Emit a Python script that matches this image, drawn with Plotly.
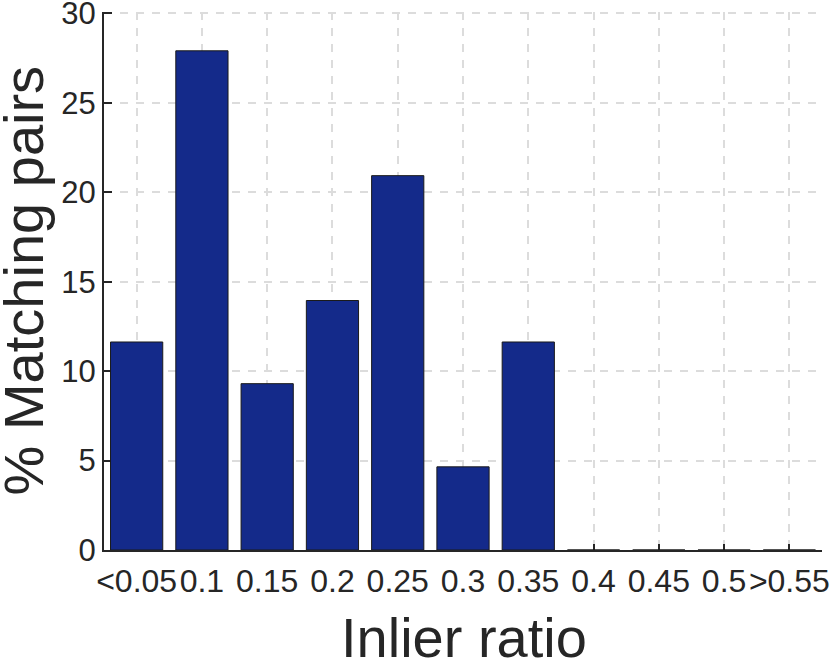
import plotly.graph_objects as go

categories = ["<0.05", "0.1", "0.15", "0.2", "0.25", "0.3", "0.35", "0.4", "0.45", "0.5", ">0.55"]
values = [11.63, 27.91, 9.30, 13.95, 20.93, 4.65, 11.63, 0, 0, 0, 0]
y_ticks = [0, 5, 10, 15, 20, 25, 30]

FONT = "Liberation Sans, Arial, Helvetica, sans-serif"
TXT = "#262626"
W, H = 831, 661
ML, MR, MT, MB = 104, 9, 12, 111
PW, PH = W - ML - MR, H - MT - MB

def px_x(px):
    return (px - ML) / PW

def px_y(py):
    return (H - MB - py) / PH

fig = go.Figure(go.Bar(
    x=list(range(len(categories))), y=values, width=0.8,
    marker=dict(color="#142A8A", line=dict(color="#1a1a1a", width=1)),
))

fig.update_layout(
    width=W, height=H,
    margin=dict(l=ML, r=MR, t=MT, b=MB, autoexpand=False),
    plot_bgcolor="white", paper_bgcolor="white",
    showlegend=False,
    font=dict(family=FONT, color=TXT),
)
fig.update_xaxes(
    range=[-0.5, len(categories) - 0.5],
    tickmode="array", tickvals=list(range(len(categories))), ticktext=categories,
    tickfont=dict(size=32, color=TXT),
    ticks="inside", ticklen=6, tickwidth=1.5, tickcolor=TXT,
    ticklabelstandoff=2, ticklabeloverflow="allow",
    showline=True, linecolor=TXT, linewidth=2,
    showgrid=True, gridcolor="#DCDCDC", gridwidth=1.5, griddash="8px,8px",
    zeroline=False, automargin=False,
    layer="below traces",
)
fig.update_yaxes(
    range=[0, 30.08],
    tickmode="array", tickvals=y_ticks,
    tickfont=dict(size=31, color=TXT),
    ticks="inside", ticklen=8, tickwidth=1.5, tickcolor=TXT,
    ticklabelstandoff=0, ticklabeloverflow="allow",
    showline=True, linecolor=TXT, linewidth=2,
    showgrid=True, gridcolor="#DCDCDC", gridwidth=1.5, griddash="8px,8px",
    zeroline=False, automargin=False,
    layer="below traces",
)

fig.add_annotation(text="Inlier ratio", xref="paper", yref="paper",
                   x=px_x(463.5), y=px_y(637.4), xanchor="center", yanchor="middle",
                   showarrow=False, font=dict(size=56, color=TXT, family=FONT))
fig.add_annotation(text="% Matching pairs", xref="paper", yref="paper",
                   x=px_x(23.4), y=px_y(280), xanchor="center", yanchor="middle",
                   textangle=-90, showarrow=False, font=dict(size=56, color=TXT, family=FONT))

fig.write_html("out.html", config={"displayModeBar": False},
               post_script="document.body.style.margin='0';document.body.style.padding='0';")
